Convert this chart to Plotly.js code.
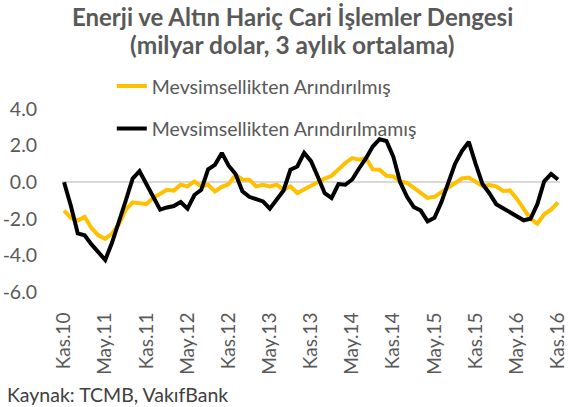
<!DOCTYPE html>
<html>
<head>
<meta charset="utf-8">
<script src="https://cdn.plot.ly/plotly-3.0.1.min.js"></script>
<style>
  html, body { margin: 0; padding: 0; background: #ffffff; }
  #chart { width: 576px; height: 407px; }
</style>
</head>
<body>
<div id="chart"></div>
<script>
// Months (categories)
const months = [
  "Kas.10","Ara.10",
  "Oca.11","Şub.11","Mar.11","Nis.11","May.11","Haz.11","Tem.11","Ağu.11","Eyl.11","Eki.11","Kas.11","Ara.11",
  "Oca.12","Şub.12","Mar.12","Nis.12","May.12","Haz.12","Tem.12","Ağu.12","Eyl.12","Eki.12","Kas.12","Ara.12",
  "Oca.13","Şub.13","Mar.13","Nis.13","May.13","Haz.13","Tem.13","Ağu.13","Eyl.13","Eki.13","Kas.13","Ara.13",
  "Oca.14","Şub.14","Mar.14","Nis.14","May.14","Haz.14","Tem.14","Ağu.14","Eyl.14","Eki.14","Kas.14","Ara.14",
  "Oca.15","Şub.15","Mar.15","Nis.15","May.15","Haz.15","Tem.15","Ağu.15","Eyl.15","Eki.15","Kas.15","Ara.15",
  "Oca.16","Şub.16","Mar.16","Nis.16","May.16","Haz.16","Tem.16","Ağu.16","Eyl.16","Eki.16","Kas.16"
];

// Mevsimsellikten Arındırılmış (seasonally adjusted)
const seasAdj = [
  -1.55,-1.95,-2.1,-1.9,-2.5,-2.9,-3.1,-2.8,-2.3,-1.5,
  -1.1,-1.15,-1.2,-0.85,-0.6,-0.41,-0.46,-0.14,-0.23,0.04,
  -0.23,-0.14,-0.5,-0.25,-0.1,0.4,0.15,0.14,-0.23,-0.14,
  -0.23,-0.14,-0.41,-0.23,-0.59,-0.4,-0.15,0.0,0.2,0.35,
  0.7,1.05,1.32,1.23,1.32,0.7,0.68,0.35,0.32,0.04,
  -0.04,-0.3,-0.59,-0.86,-0.8,-0.55,-0.3,0.0,0.2,0.25,
  0.0,-0.2,-0.15,-0.23,-0.48,-0.45,-0.9,-1.5,-2.0,-2.27,
  -1.75,-1.5,-1.1
];

// Mevsimsellikten Arındırılmamış (not seasonally adjusted)
const notSeasAdj = [
  0.0,-1.3,-2.8,-2.9,-3.4,-3.85,-4.25,-3.3,-2.2,-1.0,
  0.2,0.6,-0.1,-0.75,-1.5,-1.38,-1.3,-1.08,-1.45,-0.7,
  -0.42,0.7,0.95,1.6,0.9,0.45,-0.5,-0.8,-0.95,-1.05,
  -1.45,-0.96,-0.45,0.68,0.86,1.6,1.15,0.3,-0.6,-0.86,
  -0.1,-0.14,0.15,0.75,1.3,1.95,2.35,2.25,1.4,0.0,
  -0.8,-1.36,-1.55,-2.14,-1.95,-1.1,0.0,1.0,1.7,2.2,
  1.0,-0.1,-0.6,-1.2,-1.42,-1.63,-1.85,-2.08,-2.0,-1.2,
  0.05,0.45,0.15
];

// Tick labels
const xTickLabels = ["Kas.10","May.11","Kas.11","May.12","Kas.12","May.13","Kas.13","May.14","Kas.14","May.15","Kas.15","May.16","Kas.16"];
const yTickValues = [4, 2, 0, -2, -4, -6];
const yTickLabels = ["4.0", "2.0", "0.0", "-2.0", "-4.0", "-6.0"];

const seriesNames = ["Mevsimsellikten Arındırılmış", "Mevsimsellikten Arındırılmamış"];
const titleLine1 = "Enerji ve Altın Hariç Cari İşlemler Dengesi";
const titleLine2 = "(milyar dolar, 3 aylık ortalama)";
const sourceText = "Kaynak: TCMB, VakıfBank";

const FONT = "Lato, 'Open Sans', sans-serif";
const GRAY = "#595959";

const traces = [
  {
    x: months, y: seasAdj, type: "scatter", mode: "lines",
    name: seriesNames[0], legendgroup: "a",
    line: { color: "#FFC000", width: 4, shape: "linear" },
    hoverinfo: "skip"
  },
  {
    x: months, y: notSeasAdj, type: "scatter", mode: "lines",
    name: seriesNames[1], legendgroup: "b",
    line: { color: "#000000", width: 4, shape: "linear" },
    hoverinfo: "skip"
  }
];

const layout = {
  width: 576, height: 407,
  margin: { l: 62, r: 16, t: 109, b: 115 },
  paper_bgcolor: "#ffffff", plot_bgcolor: "#ffffff",
  font: { family: FONT, color: GRAY, size: 19 },
  title: {
    text: "<b>" + titleLine1 + "</b>",
    font: { family: FONT, size: 24, color: GRAY, weight: 700 },
    x: 0.508, xanchor: "center", xref: "container",
    y: 0.956, yanchor: "middle", yref: "container"
  },
  xaxis: {
    type: "category",
    range: [-0.3, 72.3],
    tickmode: "array",
    tickvals: xTickLabels,
    ticktext: xTickLabels,
    tickangle: -90,
    showgrid: false, zeroline: false, showline: false,
    ticks: "outside", ticklen: 12, tickcolor: "rgba(0,0,0,0)",
    tickfont: { family: FONT, size: 19, color: GRAY },
    fixedrange: true
  },
  yaxis: {
    range: [-6, 4],
    tickmode: "array",
    tickvals: yTickValues,
    ticktext: yTickLabels,
    showgrid: false,
    zeroline: true, zerolinecolor: "#D9D9D9", zerolinewidth: 1.5,
    showline: false,
    ticks: "outside", ticklen: 20, tickcolor: "rgba(0,0,0,0)",
    tickfont: { family: FONT, size: 19.5, color: GRAY },
    fixedrange: true
  },
  showlegend: true,
  legend: {
    x: 0.1, xanchor: "left", xref: "paper",
    y: 1.23, yanchor: "top", yref: "paper",
    bgcolor: "rgba(0,0,0,0)", borderwidth: 0,
    font: { family: FONT, size: 19.5, color: GRAY },
    traceorder: "grouped", tracegroupgap: 14,
    itemwidth: 30
  },
  annotations: [
    {
      text: "<b>" + titleLine2 + "</b>",
      xref: "paper", yref: "paper",
      x: 0.463, y: 1.35, xanchor: "center", yanchor: "middle",
      showarrow: false,
      font: { family: FONT, size: 24.5, color: GRAY, weight: 700 }
    },
    {
      text: sourceText,
      xref: "paper", yref: "paper",
      x: -0.115, y: -0.56, xanchor: "left", yanchor: "middle",
      showarrow: false,
      font: { family: FONT, size: 19.5, color: "#404040" }
    }
  ]
};

Plotly.newPlot("chart", traces, layout, { displayModeBar: false, staticPlot: true });
</script>
</body>
</html>
